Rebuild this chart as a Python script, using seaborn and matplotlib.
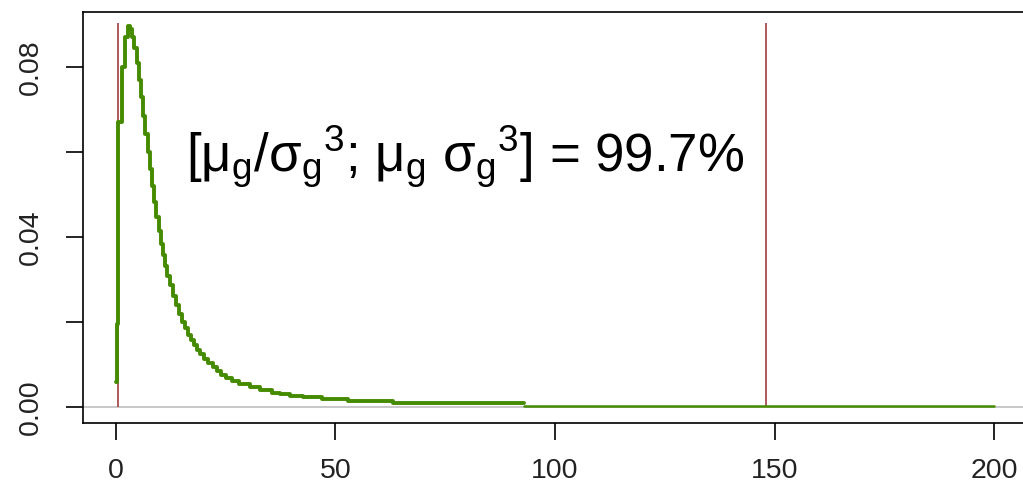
import matplotlib

matplotlib.use("Agg")
import matplotlib.pyplot as plt
import pandas as pd
import seaborn as sns

# step density (value holds until the next x)
step_x = [0, 0.15, 0.5, 1.4, 2.0, 2.7, 3.2, 3.7, 4.2, 4.7, 5.2, 5.7, 6.2, 6.7, 7.2, 7.7,
          8.2, 8.7, 9.2, 9.7, 10.2, 10.7, 11.2, 11.7, 12.2, 12.9, 13.6, 14.3, 15.0, 15.7,
          16.4, 17.1, 17.8, 18.5, 19.2, 20.0, 21, 22, 23, 24, 25, 26.5, 28, 30.5, 32.8,
          35.5, 37.4, 39.6, 42.6, 46.9, 52.8, 63.1, 93]
density = [0.006, 0.0195, 0.067, 0.080, 0.087, 0.0896, 0.0890, 0.0870, 0.0845, 0.0810,
           0.0770, 0.0728, 0.0685, 0.0642, 0.0600, 0.0560, 0.0520, 0.0482, 0.0447, 0.0414,
           0.0384, 0.0357, 0.0332, 0.0309, 0.0288, 0.0262, 0.0239, 0.0219, 0.0201, 0.0185,
           0.0170, 0.0157, 0.0145, 0.0134, 0.0124, 0.0114, 0.0103, 0.0093, 0.0084, 0.0076,
           0.0069, 0.0061, 0.0054, 0.0046, 0.0040, 0.0034, 0.0030, 0.0027, 0.0023, 0.0018,
           0.0014, 0.00087, 0.00087]
tail_x = [93, 200]
tail_density = [0.0003, 0.0003]

bound_x = [0.5, 148]
bound_top = 0.0904

x_ticks = [0, 50, 100, 150, 200]
y_ticks = [0.00, 0.02, 0.04, 0.06, 0.08]
y_labels = ["0.00", "", "0.04", "", "0.08"]
label = r"[$\mathregular{μ_g/σ_g{}^3}$; $\mathregular{μ_g}$ $\mathregular{σ_g{}^3}$] = 99.7%"

GREEN = "#458B00"
RED = "#a84c4f"

sns.set_style("white")
plt.rcParams["font.family"] = ["Liberation Sans", "DejaVu Sans"]
plt.rcParams["mathtext.fontset"] = "custom"
plt.rcParams["mathtext.rm"] = "Liberation Sans"
plt.rcParams["mathtext.it"] = "Liberation Sans"

fig = plt.figure(figsize=(10.23, 4.99), dpi=100)
ax = fig.add_axes([83 / 1023, 76 / 499, (1035 - 83) / 1023, (423 - 12) / 499])

ax.axhline(0, color="#c4c4c4", lw=1.3, zorder=1)
ax.vlines(bound_x, 0, bound_top, color=RED, lw=1.3, zorder=2)

main = pd.DataFrame({"x": step_x, "density": density})
sns.lineplot(data=main, x="x", y="density", drawstyle="steps-post", color=GREEN,
             lw=2.8, ax=ax, zorder=3)
sns.lineplot(x=tail_x, y=tail_density, drawstyle="steps-post", color=GREEN,
             lw=1.8, ax=ax, zorder=3)

ax.text(15.9, 0.0553, label, fontsize=38, ha="left", va="baseline", color="black")

ax.set_xlim(-7.5, 209.3)
ax.set_ylim(-0.00376, 0.0929)
ax.set_xticks(x_ticks)
ax.set_xticklabels([str(t) for t in x_ticks])
ax.set_yticks(y_ticks)
ax.set_yticklabels(y_labels, rotation=90, va="center")
ax.set_xlabel("")
ax.set_ylabel("")
ax.tick_params(axis="both", direction="out", length=12.5, width=1.2, color="black",
               labelsize=20.5, labelcolor="#222222")
ax.tick_params(axis="x", bottom=True, pad=13)
ax.tick_params(axis="y", left=True, pad=16)
for side in ["top", "bottom", "left", "right"]:
    ax.spines[side].set_visible(True)
    ax.spines[side].set_color("black")
    ax.spines[side].set_linewidth(1.2)

fig.savefig("out.png", dpi=100)
